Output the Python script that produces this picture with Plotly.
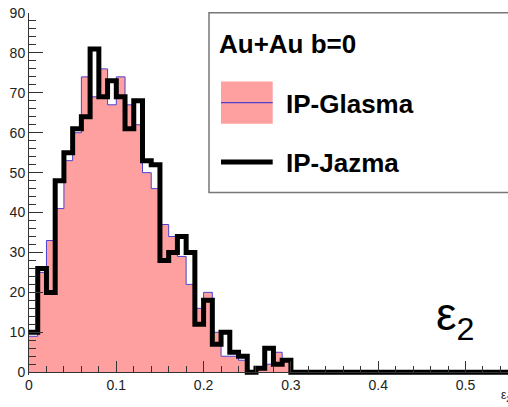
import plotly.graph_objects as go

# ---- data (histogram of eccentricity eps_2, bin width 0.01) ----
bin_edges = [0.00, 0.01, 0.02, 0.03, 0.04, 0.05, 0.06, 0.07, 0.08, 0.09,
             0.10, 0.11, 0.12, 0.13, 0.14, 0.15, 0.16, 0.17, 0.18, 0.19,
             0.20, 0.21, 0.22, 0.23, 0.24, 0.25, 0.26, 0.27, 0.28, 0.29,
             0.30, 0.31, 0.32, 0.33, 0.34, 0.35, 0.36, 0.37, 0.38, 0.39,
             0.40, 0.41, 0.42, 0.43, 0.44, 0.45, 0.46, 0.47, 0.48, 0.49,
             0.50, 0.51, 0.52, 0.53, 0.54, 0.55, 0.56, 0.57, 0.58, 0.59, 0.60]

glasma_counts = [9, 25, 33, 41, 53, 60, 74, 69, 76, 67,
                 74, 67, 62, 50, 46, 37, 34, 29, 22, 16,
                 20, 10, 4, 4, 3, 0, 1, 2, 5, 3,
                 0, 0, 0, 0, 0, 0, 0, 0, 0, 0,
                 0, 0, 0, 0, 0, 0, 0, 0, 0, 0,
                 0, 0, 0, 0, 0, 0, 0, 0, 0, 0]

jazma_counts = [10, 26, 20, 48, 55, 61, 64, 81, 69, 73,
                69, 61, 68, 53, 52, 28, 30, 34, 30, 12,
                18, 7, 10, 5, 4, 0, 1, 6, 2, 3,
                0, 0, 0, 0, 0, 0, 0, 0, 0, 0,
                0, 0, 0, 0, 0, 0, 0, 0, 0, 0,
                0, 0, 0, 0, 0, 0, 0, 0, 0, 0]

legend_title = "Au+Au b=0"
series_names = ["IP-Glasma", "IP-Jazma"]
x_ticks = [0, 0.1, 0.2, 0.3, 0.4, 0.5]
y_ticks = [0, 10, 20, 30, 40, 50, 60, 70, 80, 90]

# ---- layout geometry (pixels) ----
W, H = 508, 407
L, T = 29, 13
PLOT_R = 508
Y_LO = -0.7
PLOT_B = 375.5
PW = PLOT_R - L
PH = PLOT_B - T


def px(xp):
    return (xp - L) / PW


def py(yp):
    return (PLOT_B - yp) / PH


FONT = "Liberation Sans, Arial, Helvetica, sans-serif"
PINK = "#ffa0a0"
BLUE = "#4a42d0"
AXC = "#333333"

fig = go.Figure()

fig.add_trace(go.Scatter(
    x=bin_edges, y=glasma_counts + [glasma_counts[-1]],
    mode="lines", line=dict(shape="hv", color=BLUE, width=1),
    fill="tozeroy", fillcolor=PINK, name=series_names[0], showlegend=False,
))
fig.add_trace(go.Scatter(
    x=bin_edges, y=jazma_counts + [jazma_counts[-1]],
    mode="lines", line=dict(shape="hv", color="black", width=5),
    name=series_names[1], showlegend=False,
))

fig.update_xaxes(
    range=[0, (PLOT_R - L) / 873.0], tickvals=x_ticks,
    ticks="inside", ticklen=11, tickwidth=1, tickcolor=AXC,
    minor=dict(ticks="inside", dtick=0.02, ticklen=6, tickwidth=1, tickcolor=AXC),
    showline=True, linecolor=AXC, linewidth=1, mirror=True,
    showgrid=False, zeroline=False,
    anchor="free", position=(0 - Y_LO) / (90 - Y_LO),
    tickfont=dict(family=FONT, size=14, color="#222"),
)
fig.update_yaxes(
    range=[Y_LO, 90], tickvals=y_ticks,
    ticks="inside", ticklen=14, tickwidth=1, tickcolor=AXC,
    minor=dict(ticks="inside", dtick=2, tick0=0, ticklen=7, tickwidth=1, tickcolor=AXC),
    showline=True, linecolor=AXC, linewidth=1,
    showgrid=False, zeroline=False,
    tickfont=dict(family=FONT, size=14, color="#222"),
)

shapes = []
# legend box
shapes.append(dict(type="rect", xref="paper", yref="paper",
                   x0=px(209), x1=px(520), y0=py(192.7), y1=py(12.7),
                   line=dict(color="#777", width=1.5), fillcolor="white", layer="above"))
# glasma legend symbol
shapes.append(dict(type="rect", xref="paper", yref="paper",
                   x0=px(221), x1=px(272.7), y0=py(124), y1=py(81.7),
                   line=dict(width=0), fillcolor=PINK, layer="above"))
shapes.append(dict(type="line", xref="paper", yref="paper",
                   x0=px(221), x1=px(272.7), y0=py(102.7), y1=py(102.7),
                   line=dict(color=BLUE, width=1.2), layer="above"))
# jazma legend symbol
shapes.append(dict(type="line", xref="paper", yref="paper",
                   x0=px(221), x1=px(272.7), y0=py(162.3), y1=py(162.3),
                   line=dict(color="black", width=5), layer="above"))

annotations = [
    dict(text="<b>%s</b>" % legend_title, x=px(217), y=py(44), xref="paper", yref="paper",
         xanchor="left", yanchor="middle", showarrow=False,
         font=dict(family=FONT, size=26, color="black")),
    dict(text="<b>%s</b>" % series_names[0], x=px(284), y=py(104), xref="paper", yref="paper",
         xanchor="left", yanchor="middle", showarrow=False,
         font=dict(family=FONT, size=26, color="black")),
    dict(text="<b>%s</b>" % series_names[1], x=px(284), y=py(163), xref="paper", yref="paper",
         xanchor="left", yanchor="middle", showarrow=False,
         font=dict(family=FONT, size=26, color="black")),
    dict(text="ε<sub>2</sub>", x=px(434), y=py(318), xref="paper", yref="paper",
         xanchor="left", yanchor="middle", showarrow=False,
         font=dict(family=FONT, size=46, color="black")),
    dict(text="ε<sub>2</sub>", x=px(499), y=py(397), xref="paper", yref="paper",
         xanchor="left", yanchor="middle", showarrow=False,
         font=dict(family=FONT, size=12, color="#222")),
]

fig.update_layout(
    width=W, height=H,
    margin=dict(l=L, r=W - PLOT_R, t=T, b=H - PLOT_B, pad=0),
    paper_bgcolor="white", plot_bgcolor="white",
    shapes=shapes, annotations=annotations,
    showlegend=False,
)

fig.write_html("out.html")
